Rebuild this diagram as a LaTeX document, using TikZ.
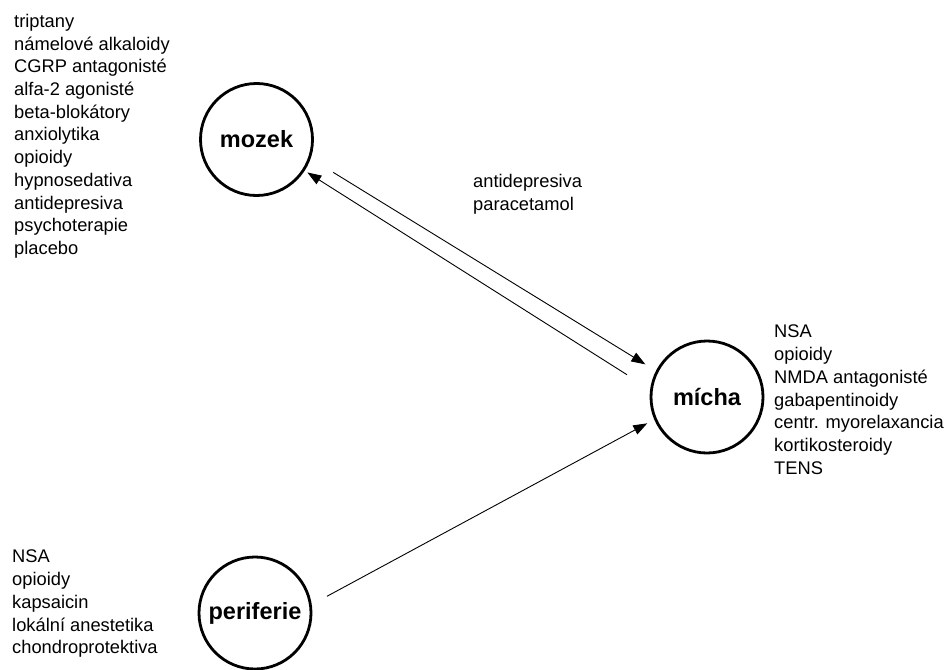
\documentclass[tikz,border=0pt]{standalone}
\usepackage{fontspec}
\setmainfont{Liberation Sans}
\usetikzlibrary{arrows.meta}

\begin{document}
\begin{tikzpicture}[x=1pt,y=-1pt,
  oblast/.style={draw,circle,line width=2.8pt,minimum size=112pt,inner sep=0pt,outer sep=0pt,font=\fontsize{23.5}{28}\selectfont\bfseries},
  seznam/.style={anchor=north west,align=left,inner sep=0pt,font=\fontsize{18.3}{22.7}\selectfont},
  sipka/.style={line width=0.9pt,-{Triangle[length=14pt,width=10pt]}}]
\useasboundingbox (0,0) rectangle (949,669);

% circles
\node[oblast] (mozek) at (256.5,139.5) {mozek};
\node[oblast] (micha) at (707,397) {mícha};
\node[oblast] (periferie) at (255,613) {periferie};

% lists
\node[seznam] (lekyMozek) at (14,14) {triptany\\námelové alkaloidy\\CGRP antagonisté\\alfa-2 agonisté\\beta-blokátory\\anxiolytika\\opioidy\\hypnosedativa\\antidepresiva\\psychoterapie\\placebo};
\node[seznam] (lekyDrahy) at (473,174) {antidepresiva\\paracetamol};
\node[seznam] (lekyMicha) at (774,325) {NSA\\opioidy\\NMDA antagonisté\\gabapentinoidy\\centr. myorelaxancia\\kortikosteroidy\\TENS};
\node[seznam] (lekyPeriferie) at (12,550) {NSA\\opioidy\\kapsaicin\\lokální anestetika\\chondroprotektiva};

% arrows
\draw[sipka,shorten <=27.9pt,shorten >=13.8pt] (mozek.-19.7) -- (micha.153.8);
\draw[sipka,shorten <=28.9pt,shorten >=4.6pt] (micha.173.2) -- (mozek.-33.7);
\draw[sipka,shorten <=18.8pt,shorten >=9.3pt] (periferie.8.3) -- (micha.-157.4);

\end{tikzpicture}
\end{document}
